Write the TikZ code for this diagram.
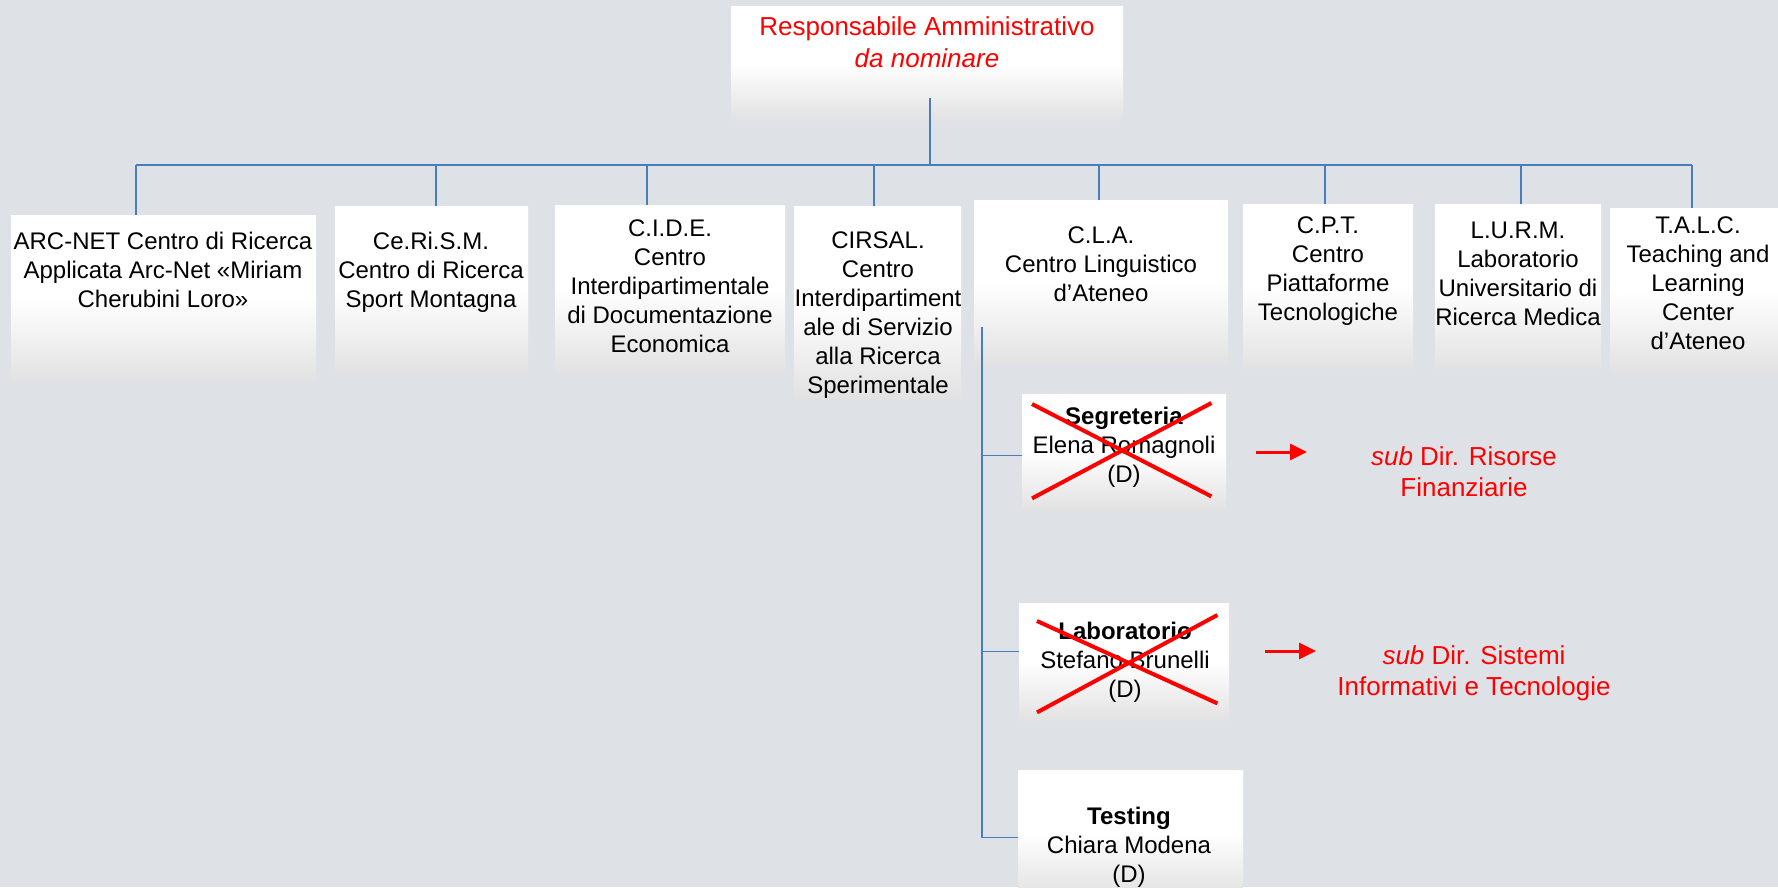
\documentclass[tikz,border=0pt]{standalone}
\usepackage{fontspec}
\setmainfont{Liberation Sans}
\usepackage{tikz}
\usetikzlibrary{arrows.meta}
\definecolor{backgr}{RGB}{222,226,230}
\definecolor{boxgray}{RGB}{226,226,226}
\definecolor{linkblue}{RGB}{74,126,187}
\tikzset{unitbox/.style={rectangle,inner sep=0,anchor=north west,top color=white,bottom color=boxgray,middle color=white},
    unittext/.style={inner sep=0,anchor=north,align=center,font=\fontsize{24}{29}\selectfont},
    redtext/.style={inner sep=0,anchor=north,align=center,text=red,font=\fontsize{26}{31}\selectfont},
    link/.style={draw=linkblue,line width=2pt},
    sublink/.style={draw=linkblue,line width=1.5pt},
    crossout/.style={draw=red,line width=4pt},
    redarrow/.style={draw=red,line width=3pt,->,>={Triangle[length=17pt,width=16pt]}}}

\begin{document}
\begin{tikzpicture}[x=1pt,y=1pt]

\fill[backgr] (0,0) rectangle (1778,-887);
\useasboundingbox (0,0) rectangle (1778,-887);

\node (resp) [unitbox,minimum width=392pt,minimum height=114pt] at (731,-6) {};
\node (resp txt) [unittext,text=red,font=\fontsize{26}{32}\selectfont] at (927,-16) {Responsabile Amministrativo\\\textit{da nominare}};

\node (unit 1) [unitbox,minimum width=305pt,minimum height=165pt] at (11,-215) {};
\node (unit 2) [unitbox,minimum width=193pt,minimum height=166pt] at (335,-206) {};
\node (unit 3) [unitbox,minimum width=230pt,minimum height=167pt] at (555,-205) {};
\node (unit 4) [unitbox,minimum width=167pt,minimum height=192pt] at (794,-206) {};
\node (unit 5) [unitbox,minimum width=254pt,minimum height=163pt] at (974,-200) {};
\node (unit 6) [unitbox,minimum width=170pt,minimum height=164pt] at (1243,-204) {};
\node (unit 7) [unitbox,minimum width=166pt,minimum height=164pt] at (1435,-204) {};
\node (unit 8) [unitbox,minimum width=168pt,minimum height=164pt] at (1610,-208) {};

\node (unit 1 txt) [unittext] at (163,-232) {ARC-NET Centro di Ricerca\\Applicata Arc-Net «Miriam\\Cherubini Loro»};
\node (unit 2 txt) [unittext] at (431,-232) {Ce.Ri.S.M.\\Centro di Ricerca\\Sport Montagna};
\node (unit 3 txt) [unittext] at (670,-220) {C.I.D.E.\\Centro\\Interdipartimentale\\di Documentazione\\Economica};
\node (unit 4 txt) [unittext] at (878,-232) {CIRSAL.\\Centro\\Interdipartiment\\ale di Servizio\\alla Ricerca\\Sperimentale};
\node (unit 5 txt) [unittext] at (1101,-227) {C.L.A.\\Centro Linguistico\\d’Ateneo};
\node (unit 6 txt) [unittext] at (1328,-217) {C.P.T.\\Centro\\Piattaforme\\Tecnologiche};
\node (unit 7 txt) [unittext] at (1518,-222) {L.U.R.M.\\Laboratorio\\Universitario di\\Ricerca Medica};
\node (unit 8 txt) [unittext] at (1698,-217) {T.A.L.C.\\Teaching and\\Learning\\Center\\d’Ateneo};

\node (seg) [unitbox,minimum width=204pt,minimum height=115pt] at (1022,-394) {};
\node (lab) [unitbox,minimum width=210pt,minimum height=117pt] at (1019,-603) {};
\node (test) [unitbox,minimum width=225pt,minimum height=125pt] at (1018,-770) {};

\node (seg txt) [unittext] at (1124,-407) {\textbf{Segreteria}\\Elena Romagnoli\\(D)};
\node (lab txt) [unittext] at (1125,-622) {\textbf{Laboratorio}\\Stefano Brunelli\\(D)};
\node (test txt) [unittext] at (1129,-807) {\textbf{Testing}\\Chiara Modena\\(D)};

\draw [crossout] ([shift={(10,-10)}]seg.north west) -- ([shift={(-15,13)}]seg.south east);
\draw [crossout] ([shift={(10,11)}]seg.south west) -- ([shift={(-15,-9)}]seg.north east);
\draw [crossout] ([shift={(18,-18)}]lab.north west) -- ([shift={(-12,17)}]lab.south east);
\draw [crossout] ([shift={(18,8)}]lab.south west) -- ([shift={(-12,-12)}]lab.north east);

\node (fin) [redtext] at (1464,-446) {\textit{sub} Dir. Risorse\\Finanziarie};
\node (tec) [redtext] at (1474,-645) {\textit{sub} Dir. Sistemi\\Informativi e Tecnologie};

\coordinate (seg out) at (1256,-452);
\coordinate (seg to) at (1307,-452);
\coordinate (lab out) at (1265,-651);
\coordinate (lab to) at (1316,-651);
\draw [redarrow] (seg out) -- (seg to);
\draw [redarrow] (lab out) -- (lab to);

\coordinate (hub) at (930,-165);
\coordinate (d 1) at (136,-165);
\coordinate (d 2) at (436,-165);
\coordinate (d 3) at (647,-165);
\coordinate (d 4) at (874,-165);
\coordinate (d 5) at (1099,-165);
\coordinate (d 6) at (1325,-165);
\coordinate (d 7) at (1521,-165);
\coordinate (d 8) at (1692,-165);

\draw [link] ([yshift=22pt]resp.south -| hub) -- (hub);
\draw [link] (d 1) -- (d 8);
\draw [link] (d 1) -- (d 1 |- unit 1.north);
\draw [link] (d 2) -- (d 2 |- unit 2.north);
\draw [link] (d 3) -- (d 3 |- unit 3.north);
\draw [link] (d 4) -- (d 4 |- unit 4.north);
\draw [link] (d 5) -- (d 5 |- unit 5.north);
\draw [link] (d 6) -- (d 6 |- unit 6.north);
\draw [link] (d 7) -- (d 7 |- unit 7.north);
\draw [link] (d 8) -- (d 8 |- unit 8.north);

\coordinate (sub) at (982,-327);
\draw [sublink] ([yshift=-4pt]seg.west) -| (sub);
\draw [sublink] ([yshift=10pt]lab.west) -| (sub);
\draw [sublink] ([yshift=-5pt]test.west) -| (sub);

\end{tikzpicture}
\end{document}
